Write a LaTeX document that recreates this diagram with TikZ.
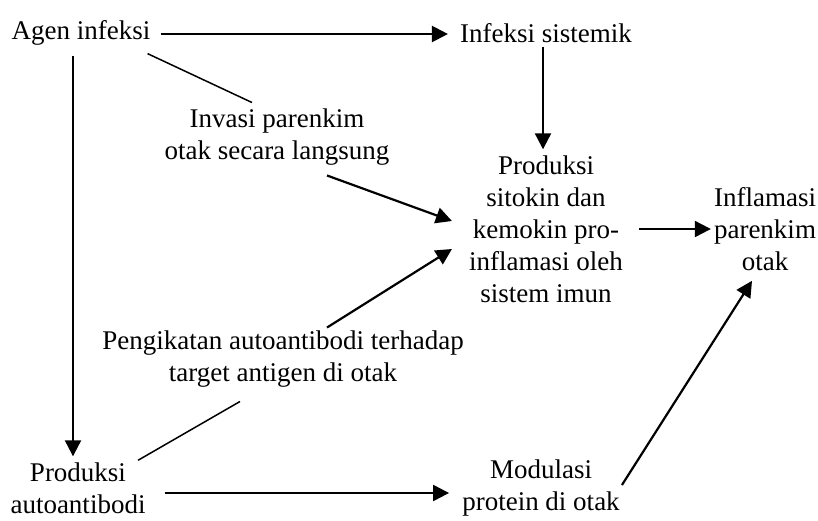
\documentclass[tikz,border=0pt]{standalone}
\usepackage{fontspec}
\setmainfont{Liberation Serif}
\usetikzlibrary{arrows.meta}
\begin{document}
\begin{tikzpicture}[x=1pt,y=-1pt,
  lbl/.style={align=center,inner sep=0pt,font=\fontsize{27}{32}\selectfont},
  arr/.style={line width=2.2pt,-{Triangle[length=16pt,width=16pt]}},
  thin/.style={line width=1.5pt}]
\useasboundingbox (0,0) rectangle (818,520);
\node[lbl] (agen) at (81,33) {Agen infeksi};
\node[lbl] (sis) at (546,33) {Infeksi sistemik};
\node[lbl] (inv) at (277,137) {Invasi parenkim\\otak secara langsung};
\node[lbl] (prod) at (546,229) {Produksi\\sitokin dan\\kemokin pro-\\inflamasi oleh\\sistem imun};
\node[lbl] (infl) at (765,229) {Inflamasi\\parenkim\\otak};
\node[lbl] (ikat) at (283,359) {Pengikatan autoantibodi terhadap\\target antigen di otak};
\node[lbl] (auto) at (78,488) {Produksi\\autoantibodi};
\node[lbl] (mod) at (541,488) {Modulasi\\protein di otak};
\draw[arr] ([xshift=10pt,yshift=-1pt]agen.east) -- ([xshift=-12pt,yshift=-1pt]sis.west);
\draw[arr] ([xshift=-3pt,yshift=-4pt]sis.south) -- ([xshift=-3pt,yshift=6pt]prod.north);
\draw[arr] ([xshift=16pt]prod.east) -- ([xshift=-3pt]infl.west);
\draw[arr] ([xshift=-8pt,yshift=-10pt]agen.south) -- ([xshift=-5pt,yshift=6pt]auto.north);
\draw[arr] ([xshift=19pt,yshift=-5pt]auto.east) -- ([xshift=-13pt,yshift=-5pt]mod.west);
\draw[arr] ([xshift=2pt,yshift=3pt]mod.east) -- ([xshift=-13pt,yshift=-10pt]infl.south);
\draw[thin] ([xshift=-3pt,yshift=-8pt]agen.south east) -- ([xshift=-25pt,yshift=6pt]inv.north);
\draw[arr] ([xshift=50pt,yshift=-10pt]inv.south) -- ([xshift=-17pt,yshift=8pt]prod.west);
\draw[arr] ([xshift=44pt,yshift=3pt]ikat.north) -- ([xshift=-17pt,yshift=-20pt]prod.west);
\draw[thin] ([xshift=60pt,yshift=2pt]auto.north) -- ([xshift=-43pt,yshift=-14pt]ikat.south);
\end{tikzpicture}
\end{document}
